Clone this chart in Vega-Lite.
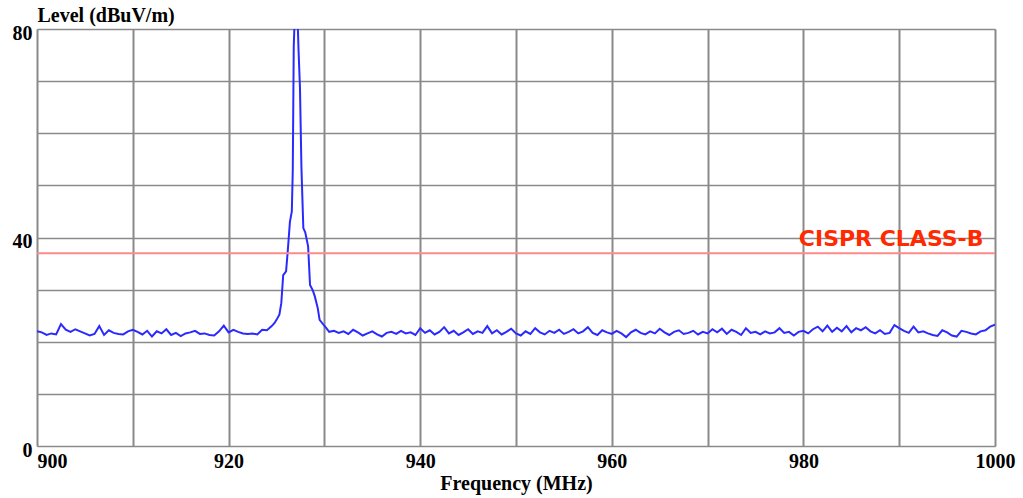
{
  "$schema": "https://vega.github.io/schema/vega-lite/v6.json",
  "width": 958,
  "height": 417,
  "autosize": {"type": "none"},
  "padding": {"left": 37, "top": 29, "right": 28, "bottom": 52},
  "background": "white",
  "config": {
    "view": {"stroke": "#cccccc", "strokeWidth": 1},
    "axis": {
      "labelFont": "Liberation Serif",
      "labelFontWeight": "bold",
      "labelFontSize": 20,
      "labelColor": "#000000",
      "titleFont": "Liberation Serif",
      "titleFontWeight": "bold",
      "titleFontSize": 20,
      "titleColor": "#000000",
      "domain": false,
      "ticks": false,
      "gridColor": "#8a8a8a",
      "gridOpacity": 1
    }
  },
  "datasets": {
    "trace": [
      {"f": 900.0, "v": 22.0}, {"f": 900.5, "v": 21.8}, {"f": 901.0, "v": 21.3}, {"f": 901.5, "v": 21.6},
      {"f": 902.0, "v": 21.4}, {"f": 902.5, "v": 23.4}, {"f": 903.0, "v": 22.3}, {"f": 903.5, "v": 21.9},
      {"f": 904.0, "v": 22.4}, {"f": 904.5, "v": 22.0}, {"f": 905.0, "v": 21.6}, {"f": 905.5, "v": 21.2},
      {"f": 906.0, "v": 21.5}, {"f": 906.5, "v": 23.0}, {"f": 907.0, "v": 21.3}, {"f": 907.5, "v": 22.2},
      {"f": 908.0, "v": 21.7}, {"f": 908.5, "v": 21.5}, {"f": 909.0, "v": 21.4}, {"f": 909.5, "v": 22.0},
      {"f": 910.0, "v": 22.3}, {"f": 910.5, "v": 21.9}, {"f": 911.0, "v": 21.4}, {"f": 911.5, "v": 22.1},
      {"f": 912.0, "v": 21.0}, {"f": 912.5, "v": 22.0}, {"f": 913.0, "v": 21.6}, {"f": 913.5, "v": 22.4},
      {"f": 914.0, "v": 21.3}, {"f": 914.5, "v": 21.7}, {"f": 915.0, "v": 21.1}, {"f": 915.5, "v": 21.6},
      {"f": 916.0, "v": 21.8}, {"f": 916.5, "v": 22.1}, {"f": 917.0, "v": 21.5}, {"f": 917.5, "v": 21.6},
      {"f": 918.0, "v": 21.3}, {"f": 918.5, "v": 21.2}, {"f": 919.0, "v": 22.0}, {"f": 919.5, "v": 23.1},
      {"f": 920.0, "v": 21.8}, {"f": 920.5, "v": 22.3}, {"f": 921.0, "v": 21.9}, {"f": 921.5, "v": 21.6},
      {"f": 922.0, "v": 21.5}, {"f": 922.5, "v": 21.6}, {"f": 923.0, "v": 21.4}, {"f": 923.5, "v": 22.3},
      {"f": 924.0, "v": 22.2}, {"f": 924.5, "v": 23.0}, {"f": 924.8, "v": 23.6}, {"f": 925.0, "v": 24.2},
      {"f": 925.3, "v": 25.2}, {"f": 925.5, "v": 27.4}, {"f": 925.7, "v": 32.8}, {"f": 926.0, "v": 33.5},
      {"f": 926.2, "v": 38.0}, {"f": 926.4, "v": 43.0}, {"f": 926.6, "v": 45.0}, {"f": 926.7, "v": 53.0},
      {"f": 926.8, "v": 76.6}, {"f": 926.95, "v": 85.0}, {"f": 927.15, "v": 85.0}, {"f": 927.3, "v": 76.0},
      {"f": 927.45, "v": 68.7}, {"f": 927.6, "v": 53.6}, {"f": 927.8, "v": 41.8}, {"f": 928.0, "v": 41.0},
      {"f": 928.3, "v": 38.3}, {"f": 928.5, "v": 30.9}, {"f": 928.8, "v": 29.8}, {"f": 929.0, "v": 28.7},
      {"f": 929.3, "v": 26.5}, {"f": 929.5, "v": 24.2}, {"f": 929.8, "v": 23.5}, {"f": 930.2, "v": 22.6},
      {"f": 930.5, "v": 21.9}, {"f": 931.0, "v": 22.1}, {"f": 931.5, "v": 21.7}, {"f": 932.0, "v": 22.0},
      {"f": 932.5, "v": 21.5}, {"f": 933.0, "v": 22.3}, {"f": 933.5, "v": 21.8}, {"f": 934.0, "v": 21.2},
      {"f": 934.5, "v": 21.6}, {"f": 935.0, "v": 22.0}, {"f": 935.5, "v": 21.4}, {"f": 936.0, "v": 21.0},
      {"f": 936.5, "v": 21.7}, {"f": 937.0, "v": 21.9}, {"f": 937.5, "v": 21.5}, {"f": 938.0, "v": 22.1},
      {"f": 938.5, "v": 21.6}, {"f": 939.0, "v": 21.8}, {"f": 939.5, "v": 21.3}, {"f": 940.0, "v": 22.6},
      {"f": 940.5, "v": 21.7}, {"f": 941.0, "v": 22.2}, {"f": 941.5, "v": 21.4}, {"f": 942.0, "v": 21.9},
      {"f": 942.5, "v": 22.8}, {"f": 943.0, "v": 21.6}, {"f": 943.5, "v": 22.1}, {"f": 944.0, "v": 21.3},
      {"f": 944.5, "v": 21.8}, {"f": 945.0, "v": 22.4}, {"f": 945.5, "v": 21.5}, {"f": 946.0, "v": 22.0},
      {"f": 946.5, "v": 21.7}, {"f": 947.0, "v": 23.0}, {"f": 947.5, "v": 21.6}, {"f": 948.0, "v": 22.2},
      {"f": 948.5, "v": 21.4}, {"f": 949.0, "v": 21.9}, {"f": 949.5, "v": 22.5}, {"f": 950.0, "v": 21.6},
      {"f": 950.5, "v": 21.2}, {"f": 951.0, "v": 22.0}, {"f": 951.5, "v": 21.5}, {"f": 952.0, "v": 22.6},
      {"f": 952.5, "v": 21.8}, {"f": 953.0, "v": 21.4}, {"f": 953.5, "v": 22.1}, {"f": 954.0, "v": 21.7},
      {"f": 954.5, "v": 22.3}, {"f": 955.0, "v": 21.5}, {"f": 955.5, "v": 21.9}, {"f": 956.0, "v": 22.4},
      {"f": 956.5, "v": 21.6}, {"f": 957.0, "v": 22.0}, {"f": 957.5, "v": 22.8}, {"f": 958.0, "v": 21.7},
      {"f": 958.5, "v": 21.3}, {"f": 959.0, "v": 22.2}, {"f": 959.5, "v": 21.8}, {"f": 960.0, "v": 21.5},
      {"f": 960.5, "v": 22.1}, {"f": 961.0, "v": 21.6}, {"f": 961.5, "v": 20.9}, {"f": 962.0, "v": 21.8},
      {"f": 962.5, "v": 22.3}, {"f": 963.0, "v": 21.7}, {"f": 963.5, "v": 21.4}, {"f": 964.0, "v": 22.0},
      {"f": 964.5, "v": 21.6}, {"f": 965.0, "v": 22.5}, {"f": 965.5, "v": 21.8}, {"f": 966.0, "v": 21.3},
      {"f": 966.5, "v": 21.9}, {"f": 967.0, "v": 22.2}, {"f": 967.5, "v": 21.5}, {"f": 968.0, "v": 21.7},
      {"f": 968.5, "v": 22.1}, {"f": 969.0, "v": 21.4}, {"f": 969.5, "v": 21.9}, {"f": 970.0, "v": 21.6},
      {"f": 970.5, "v": 22.4}, {"f": 971.0, "v": 21.8}, {"f": 971.5, "v": 22.5}, {"f": 972.0, "v": 21.5},
      {"f": 972.5, "v": 22.3}, {"f": 973.0, "v": 21.9}, {"f": 973.5, "v": 21.3}, {"f": 974.0, "v": 22.6},
      {"f": 974.5, "v": 21.7}, {"f": 975.0, "v": 21.9}, {"f": 975.5, "v": 21.4}, {"f": 976.0, "v": 22.0},
      {"f": 976.5, "v": 21.6}, {"f": 977.0, "v": 21.8}, {"f": 977.5, "v": 22.6}, {"f": 978.0, "v": 21.7},
      {"f": 978.5, "v": 21.9}, {"f": 979.0, "v": 21.2}, {"f": 979.5, "v": 21.9}, {"f": 980.0, "v": 22.1},
      {"f": 980.5, "v": 21.6}, {"f": 981.0, "v": 22.4}, {"f": 981.5, "v": 22.9}, {"f": 982.0, "v": 22.0},
      {"f": 982.5, "v": 23.1}, {"f": 983.0, "v": 21.9}, {"f": 983.5, "v": 22.7}, {"f": 984.0, "v": 22.0},
      {"f": 984.5, "v": 23.0}, {"f": 985.0, "v": 21.8}, {"f": 985.5, "v": 22.6}, {"f": 986.0, "v": 22.2},
      {"f": 986.5, "v": 22.8}, {"f": 987.0, "v": 22.0}, {"f": 987.5, "v": 21.6}, {"f": 988.0, "v": 22.2},
      {"f": 988.5, "v": 21.5}, {"f": 989.0, "v": 21.7}, {"f": 989.5, "v": 23.2}, {"f": 990.0, "v": 22.6},
      {"f": 990.5, "v": 22.1}, {"f": 991.0, "v": 21.7}, {"f": 991.5, "v": 22.9}, {"f": 992.0, "v": 21.8},
      {"f": 992.5, "v": 22.0}, {"f": 993.0, "v": 21.6}, {"f": 993.5, "v": 21.3}, {"f": 994.0, "v": 21.1},
      {"f": 994.5, "v": 22.2}, {"f": 995.0, "v": 21.8}, {"f": 995.5, "v": 21.2}, {"f": 996.0, "v": 21.0},
      {"f": 996.5, "v": 22.1}, {"f": 997.0, "v": 21.9}, {"f": 997.5, "v": 21.6}, {"f": 998.0, "v": 21.4},
      {"f": 998.5, "v": 22.0}, {"f": 999.0, "v": 22.2}, {"f": 999.5, "v": 22.9}, {"f": 1000.0, "v": 23.3}
    ],
    "limit": [
      {"f0": 900, "f1": 1000, "v": 37, "name": "CISPR CLASS-B", "fl": 998.8}
    ]
  },
  "layer": [
    {
      "data": {"name": "trace"},
      "mark": {"type": "line", "color": "#2a2aff", "strokeWidth": 2, "clip": true, "interpolate": "linear"},
      "encoding": {
        "x": {
          "field": "f",
          "type": "quantitative",
          "scale": {"domain": [900, 1000], "nice": false, "zero": false},
          "axis": {
            "title": "Frequency (MHz)",
            "values": [900, 910, 920, 930, 940, 950, 960, 970, 980, 990, 1000],
            "labelExpr": "datum.value % 20 === 0 ? datum.label : ''",
            "format": "d",
            "labelPadding": 5,
            "labelAlign": {"condition": {"test": "datum.value === 900", "value": "left"}, "value": "center"},
            "labelBound": false,
            "titlePadding": 2,
            "gridWidth": 2
          }
        },
        "y": {
          "field": "v",
          "type": "quantitative",
          "scale": {"domain": [0, 80], "nice": false},
          "axis": {
            "title": "Level (dBuV/m)",
            "titleAngle": 0,
            "titleX": 0,
            "titleY": -14,
            "titleAlign": "left",
            "titleBaseline": "middle",
            "values": [0, 10, 20, 30, 40, 50, 60, 70, 80],
            "labelExpr": "datum.value % 40 === 0 ? datum.label : ''",
            "labelPadding": 5,
            "labelOffset": 4,
            "gridWidth": 1.5
          }
        }
      }
    },
    {
      "data": {"name": "limit"},
      "mark": {"type": "rule", "color": "#ff8a8a", "strokeWidth": 2},
      "encoding": {
        "x": {"field": "f0", "type": "quantitative"},
        "x2": {"field": "f1"},
        "y": {"field": "v", "type": "quantitative"}
      }
    },
    {
      "data": {"name": "limit"},
      "mark": {
        "type": "text",
        "color": "#ff2a00",
        "font": "DejaVu Sans",
        "fontWeight": "bold",
        "fontSize": 22,
        "align": "right",
        "baseline": "bottom",
        "dy": -2
      },
      "encoding": {
        "x": {"field": "fl", "type": "quantitative"},
        "y": {"field": "v", "type": "quantitative"},
        "text": {"field": "name"}
      }
    }
  ]
}
